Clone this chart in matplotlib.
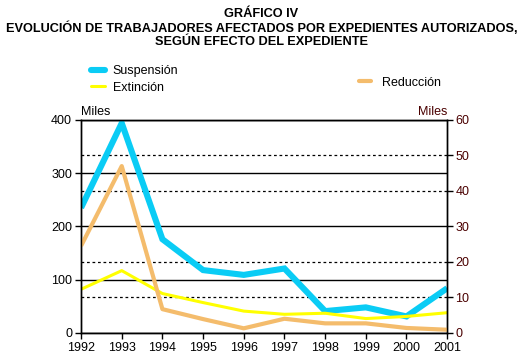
import numpy as np
import matplotlib.pyplot as plt

years = np.arange(1992, 2002)
suspension = [235, 394, 176, 118, 109, 121, 41, 48, 31, 84]
extincion = [82, 117, 74, 57, 41, 35, 37, 27, 31, 38]
reduccion = [24.5, 47, 6.7, 3.9, 1.3, 4.0, 2.7, 2.7, 1.4, 0.9]  # eje derecho

left_ticks = [0, 100, 200, 300, 400]
right_ticks = [0, 10, 20, 30, 40, 50, 60]

plt.rcParams['font.family'] = ['Liberation Sans', 'DejaVu Sans']
plt.rcParams['font.size'] = 9

c_susp = '#0ACCF5'
c_ext = '#FFFF00'
c_red = '#F4BC6C'
c_right = '#4A0000'

fig = plt.figure(figsize=(5.23, 3.58), dpi=100)
ax = fig.add_axes([0.155, 0.070, 0.700, 0.595])
ax2 = ax.twinx()

l1, = ax.plot(years, suspension, color=c_susp, lw=4.4, solid_joinstyle='miter', solid_capstyle='butt')
l2, = ax.plot(years, extincion, color=c_ext, lw=2.2, solid_capstyle='butt')
l3, = ax2.plot(years, reduccion, color=c_red, lw=3.0, solid_capstyle='butt')

ax.set_xlim(1992, 2001)
ax.set_ylim(0, 400)
ax2.set_ylim(0, 60)
ax.set_xticks(years)
ax.set_yticks(left_ticks)
ax2.set_yticks(right_ticks)

# dashed lines follow the right axis ticks
scale = 400 / 60
minor = [t * scale for t in right_ticks[1:-1] if (t * scale) not in left_ticks]
ax.set_yticks(minor, minor=True)
ax.tick_params(axis='y', which='minor', length=0)
ax.grid(True, axis='y', which='major', color='black', lw=1.0)
ax.grid(True, axis='y', which='minor', color='black', lw=0.9, ls=(0, (2.2, 2.2)))
ax.set_axisbelow(True)

ax.tick_params(axis='both', which='major', direction='out', length=4, width=1, colors='black', labelsize=9, pad=2.5)
ax2.tick_params(axis='y', direction='out', length=4, width=1, colors='black', labelcolor=c_right, labelsize=9, pad=2)
for a in (ax, ax2):
    for s in a.spines.values():
        s.set_color('black')
        s.set_linewidth(1)

ax.text(0.0, 1.01, 'Miles', transform=ax.transAxes, ha='left', va='bottom', fontsize=9)
ax.text(1.0, 1.01, 'Miles', transform=ax.transAxes, ha='right', va='bottom', fontsize=9, color=c_right)

fig.text(0.5, 0.977, 'GRÁFICO IV\nEVOLUCIÓN DE TRABAJADORES AFECTADOS POR EXPEDIENTES AUTORIZADOS,\nSEGÚN EFECTO DEL EXPEDIENTE',
         ha='center', va='top', fontsize=9.2, fontweight='bold', linespacing=1.1)

leg1 = fig.legend([l1, l2], ['Suspensión', 'Extinción'], loc='upper left',
                  bbox_to_anchor=(0.163, 0.835), frameon=False, handlelength=1.1,
                  handletextpad=0.6, labelspacing=0.35, borderpad=0, fontsize=9)
for h in leg1.legend_handles:
    h.set_solid_capstyle('round')
leg2 = fig.legend([l3], ['Reducción'], loc='upper left',
                  bbox_to_anchor=(0.675, 0.803), frameon=False, handlelength=0.9,
                  handletextpad=0.9, borderpad=0, fontsize=9)
for h in leg2.legend_handles:
    h.set_solid_capstyle('round')

fig.savefig('out.png', dpi=100)
